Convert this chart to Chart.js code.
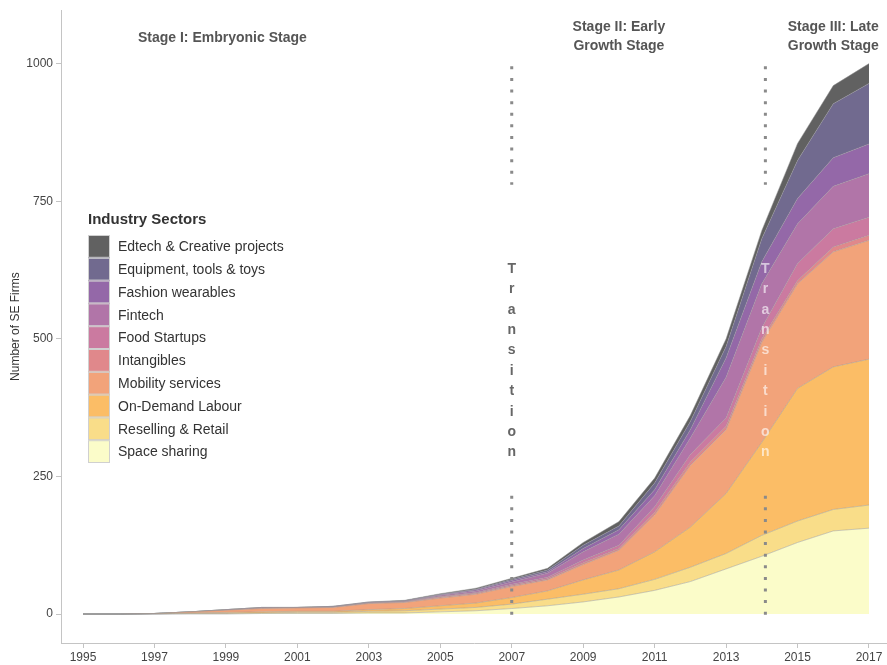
<!DOCTYPE html>
<html>
<head>
<meta charset="utf-8">
<script src="https://cdn.jsdelivr.net/npm/chart.js@4.4.1/dist/chart.umd.min.js"></script>
<style>
  body { margin: 0; background: #fff; }
  canvas { display: block; }
</style>
</head>
<body>
<canvas id="seChart" width="887" height="665"></canvas>
<script>
// years on the x axis
var years = [1995, 1996, 1997, 1998, 1999, 2000, 2001, 2002, 2003, 2004, 2005, 2006,
             2007, 2008, 2009, 2010, 2011, 2012, 2013, 2014, 2015, 2016, 2017];
var xTicks = [1995, 1997, 1999, 2001, 2003, 2005, 2007, 2009, 2011, 2013, 2015, 2017];
var yTicks = [0, 250, 500, 750, 1000];

// number of firms per sector (stacked, bottom to top)
var spaceSharing     = [0, 0, 0, 0, 0, 1, 1, 1, 2, 2, 4, 6, 10, 15, 22, 31, 43, 59, 82, 105, 130, 151, 156];
var resellingRetail  = [0, 0, 0, 1, 1, 1, 2, 2, 3, 4, 5, 6, 8, 12, 14, 15, 20, 26, 28, 38, 39, 39, 42];
var onDemandLabour   = [0, 0, 0, 1, 2, 2, 2, 2, 3, 4, 6, 8, 12, 15, 26, 34, 50, 73, 109, 169, 241, 259, 265];
var mobilityServices = [0, 0, 1, 2, 4, 6, 6, 7, 11, 11, 14, 16, 20, 20, 28, 36, 67, 112, 116, 182, 190, 209, 216];
var intangibles      = [0, 0, 0, 0, 0, 1, 1, 1, 1, 1, 2, 2, 2, 2, 3, 3, 5, 6, 6, 6, 6, 9, 9];
var foodStartups     = [0, 0, 0, 0, 1, 0, 0, 0, 0, 1, 1, 1, 2, 3, 5, 6, 10, 14, 15, 20, 31, 33, 33];
var fintech          = [0, 0, 0, 0, 0, 1, 0, 0, 1, 0, 2, 3, 4, 7, 15, 20, 20, 30, 74, 80, 72, 77, 79];
var fashionWearables = [0, 0, 0, 0, 0, 0, 0, 1, 0, 1, 1, 2, 3, 3, 6, 8, 11, 15, 35, 40, 46, 52, 54];
var equipmentTools   = [0, 0, 0, 0, 0, 0, 0, 0, 1, 0, 1, 1, 2, 3, 6, 7, 12, 15, 21, 42, 69, 98, 110];
var edtechCreative   = [0, 0, 0, 0, 0, 0, 0, 0, 0, 1, 1, 2, 2, 3, 5, 8, 9, 11, 14, 15, 31, 33, 36];

var sectorNames = ['Space sharing', 'Reselling & Retail', 'On-Demand Labour', 'Mobility services',
                   'Intangibles', 'Food Startups', 'Fintech', 'Fashion wearables',
                   'Equipment, tools & toys', 'Edtech & Creative projects'];
var sectorValues = [spaceSharing, resellingRetail, onDemandLabour, mobilityServices, intangibles,
                    foodStartups, fintech, fashionWearables, equipmentTools, edtechCreative];
var sectorColors = ['#fbfcc9', '#f9dd89', '#fbbd66', '#f2a37a', '#e0888b',
                    '#cb7aa0', '#b175a8', '#9468a8', '#716a8f', '#616161'];

var datasets = sectorNames.map(function (name, i) {
  return {
    label: name,
    data: years.map(function (yr, j) { return { x: yr, y: sectorValues[i][j] }; }),
    backgroundColor: sectorColors[i],
    borderColor: 'rgba(150,150,150,0.7)',
    borderWidth: 0.7,
    pointRadius: 0,
    tension: 0,
    fill: i === 0 ? 'origin' : '-1'
  };
});

// stage titles, dotted transition lines and the legend box
var annotations = {
  id: 'annotations',
  afterDraw: function (chart) {
    var ctx = chart.ctx;
    var xs = chart.scales.x, ys = chart.scales.y;
    ctx.save();

    // stage labels
    ctx.fillStyle = '#555';
    ctx.font = 'bold 14px "Liberation Sans", Arial, sans-serif';
    ctx.textAlign = 'center';
    ctx.textBaseline = 'middle';
    ctx.fillText('Stage I: Embryonic Stage', xs.getPixelForValue(1998.9), ys.getPixelForValue(1047));
    ctx.fillText('Stage II: Early', xs.getPixelForValue(2010.0), ys.getPixelForValue(1067));
    ctx.fillText('Growth Stage', xs.getPixelForValue(2010.0), ys.getPixelForValue(1031));
    ctx.fillText('Stage III: Late', xs.getPixelForValue(2016.0), ys.getPixelForValue(1067));
    ctx.fillText('Growth Stage', xs.getPixelForValue(2016.0), ys.getPixelForValue(1031));

    // dotted lines + vertical "Transition"
    [[2007, '#666'], [2014.1, 'rgba(255,255,255,0.62)']].forEach(function (t) {
      var px = xs.getPixelForValue(t[0]);
      ctx.strokeStyle = '#8a8a8a';
      ctx.lineWidth = 3;
      ctx.setLineDash([3, 8.6]);
      ctx.beginPath();
      ctx.moveTo(px, ys.getPixelForValue(995));
      ctx.lineTo(px, ys.getPixelForValue(780));
      ctx.moveTo(px, ys.getPixelForValue(215));
      ctx.lineTo(px, ys.getPixelForValue(-2));
      ctx.stroke();
      ctx.setLineDash([]);

      ctx.fillStyle = t[1];
      ctx.font = 'bold 14px "Liberation Sans", Arial, sans-serif';
      var top = ys.getPixelForValue(627);
      'Transition'.split('').forEach(function (ch, k) {
        ctx.fillText(ch, px, top + k * 20.4);
      });
    });

    // legend
    var lx = 88, ly = 235, rowH = 22.8;
    ctx.textAlign = 'left';
    ctx.fillStyle = '#333';
    ctx.font = 'bold 15px "Liberation Sans", Arial, sans-serif';
    ctx.fillText('Industry Sectors', lx, 220);
    ctx.font = '14px "Liberation Sans", Arial, sans-serif';
    for (var k = 0; k < sectorNames.length; k++) {
      var idx = sectorNames.length - 1 - k;
      var ry = ly + k * rowH;
      ctx.fillStyle = sectorColors[idx];
      ctx.fillRect(lx, ry, 22, rowH);
      ctx.strokeStyle = '#d0d0d0';
      ctx.lineWidth = 1;
      ctx.strokeRect(lx + 0.5, ry + 0.5, 21, rowH - 1);
      ctx.fillStyle = '#333';
      ctx.fillText(sectorNames[idx], lx + 30, ry + rowH / 2 + 1);
    }
    ctx.restore();
  }
};

var ctx = document.getElementById('seChart').getContext('2d');
var seChart = new Chart(ctx, {
  type: 'line',
  data: { datasets: datasets },
  options: {
    responsive: false,
    animation: false,
    devicePixelRatio: 1,
    layout: { padding: { top: 0, right: 0, left: 0, bottom: 0 } },
    plugins: { legend: { display: false }, tooltip: { enabled: false } },
    scales: {
      x: {
        type: 'linear',
        min: 1994.384,
        max: 2017.504,
        afterBuildTicks: function (axis) { axis.ticks = xTicks.map(function (v) { return { value: v }; }); },
        afterFit: function (axis) { axis.height = 22; },
        ticks: {
          color: '#444',
          font: { family: '"Liberation Sans", Arial, sans-serif', size: 12 },
          padding: 2,
          maxRotation: 0,
          callback: function (v) { return String(v); }
        },
        grid: { drawOnChartArea: false, tickLength: 5, color: '#c4c4c4' },
        border: { color: '#c4c4c4' }
      },
      y: {
        stacked: true,
        min: -52.6,
        max: 1097,
        afterBuildTicks: function (axis) { axis.ticks = yTicks.map(function (v) { return { value: v }; }); },
        afterFit: function (axis) { axis.width = 61; },
        ticks: {
          color: '#444',
          font: { family: '"Liberation Sans", Arial, sans-serif', size: 12 },
          padding: 3,
          callback: function (v) { return String(v); }
        },
        grid: { drawOnChartArea: false, tickLength: 5, color: '#c4c4c4' },
        border: { color: '#c4c4c4' },
        title: {
          display: true,
          text: 'Number of SE Firms',
          color: '#333',
          font: { family: '"Liberation Sans", Arial, sans-serif', size: 12 },
          padding: { top: 8, bottom: 0 }
        }
      }
    }
  },
  plugins: [annotations]
});
</script>
</body>
</html>
